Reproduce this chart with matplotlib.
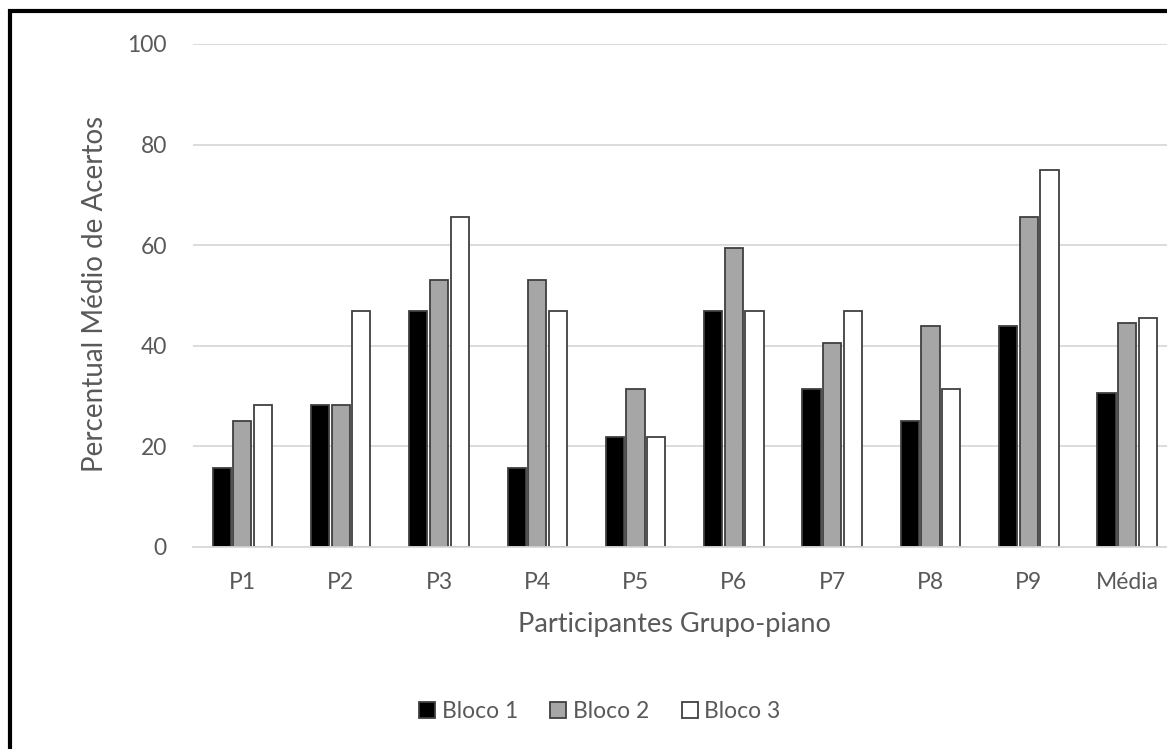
import numpy as np
import matplotlib.pyplot as plt
from matplotlib.patches import Rectangle

plt.rcParams['font.family'] = ['Lato', 'DejaVu Sans']

participantes = ["P1", "P2", "P3", "P4", "P5", "P6", "P7", "P8", "P9", "Média"]
bloco1 = [15.6, 28.1, 46.9, 15.6, 21.9, 46.9, 31.3, 25.0, 43.8, 30.6]
bloco2 = [25.0, 28.1, 53.1, 53.1, 31.3, 59.4, 40.6, 43.8, 65.6, 44.4]
bloco3 = [28.1, 46.9, 65.6, 46.9, 21.9, 46.9, 46.9, 31.3, 75.0, 45.5]

txt = "#595959"
grid = "#d9d9d9"
edge = "#404040"

fig = plt.figure(figsize=(11.67, 7.49), dpi=100)
ax = fig.add_axes([0.1656, 0.2701, 0.8423, 0.6712])

x = np.arange(len(participantes))
off = 0.21
w = 0.185
ax.bar(x - off, bloco1, w, color="black", edgecolor=edge, linewidth=1.3, label="Bloco 1", zorder=3)
ax.bar(x, bloco2, w, color="#a6a6a6", edgecolor=edge, linewidth=1.3, label="Bloco 2", zorder=3)
ax.bar(x + off, bloco3, w, color="white", edgecolor=edge, linewidth=1.3, label="Bloco 3", zorder=3)

ax.set_xlim(-0.5, len(participantes) - 0.5)
ax.set_ylim(0, 100)
ax.set_yticks(range(0, 101, 20))
ax.yaxis.grid(True, color=grid, linewidth=1.3, zorder=0)
for s in ["top", "right", "left"]:
    ax.spines[s].set_visible(False)
ax.spines["bottom"].set_color(grid)
ax.spines["bottom"].set_linewidth(1.3)
ax.spines["bottom"].set_zorder(4)
ax.set_xticks(x)
ax.set_xticklabels(participantes)
ax.tick_params(axis="both", length=0, labelsize=16.5, labelcolor=txt)
ax.tick_params(axis="x", pad=18)
ax.tick_params(axis="y", pad=19)

fig.text(0.0814, 0.607, "Percentual Médio de Acertos", fontsize=20, color=txt,
         rotation=90, ha="center", va="center")
fig.text(0.5775, 0.166, "Participantes Grupo-piano", fontsize=19.5, color=txt,
         ha="center", va="center")

fig.legend(loc="center", bbox_to_anchor=(0.514, 0.050), ncol=3, frameon=False,
           fontsize=16.5, labelcolor=txt, handlelength=0.7, handleheight=0.7,
           handletextpad=0.3, columnspacing=1.4)

# frame around the figure
fig.patches.append(Rectangle((0.0085, -0.05), 1.1, 1.035, transform=fig.transFigure,
                             fill=False, edgecolor="black", linewidth=3))

fig.savefig("out.png", dpi=100)
